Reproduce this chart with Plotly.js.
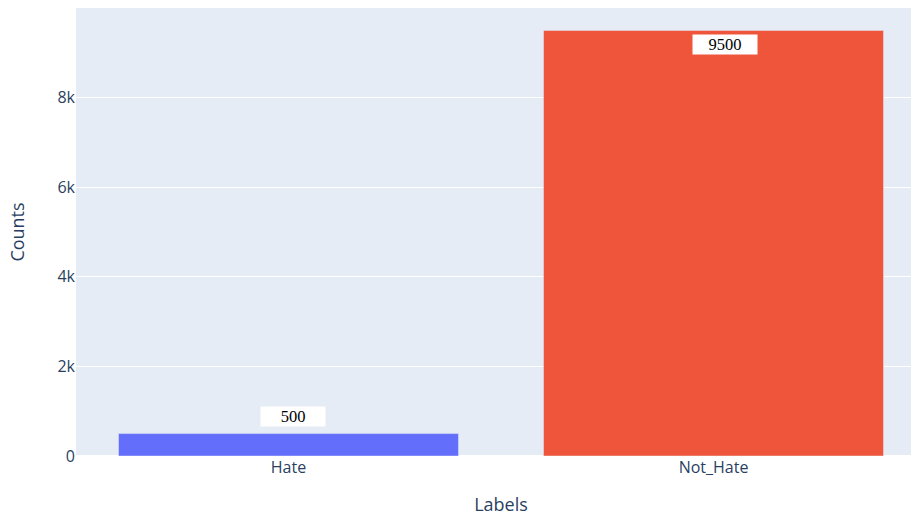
<!DOCTYPE html>
<html>
<head>
<meta charset="utf-8">
<script src="https://cdn.plot.ly/plotly-3.0.1.min.js"></script>
<style>
html, body { margin: 0; padding: 0; overflow: hidden; background: #fff; }
#chart { width: 931px; height: 516px; }
</style>
</head>
<body>
<div id="chart"></div>
<script>
const categories = ["Hate", "Not_Hate"];
const counts = [500, 9500];
const barColors = ["#636efa", "#EF553B"];
const yTickVals = [0, 2000, 4000, 6000, 8000];
const yTickText = ["0", "2k", "4k", "6k", "8k"];

const data = [{
  type: "bar",
  x: categories,
  y: counts,
  marker: { color: barColors, line: { color: "#E5ECF6", width: 0.5 } },
  showlegend: false,
  hoverinfo: "x+y"
}];

const annXShift = [4, 11];
const annYShift = [17.5, -14];
const annotations = categories.map((c, i) => ({
  x: c, y: counts[i], xref: "x", yref: "y",
  text: String(counts[i]),
  showarrow: false,
  xanchor: "center", yanchor: "middle",
  xshift: annXShift[i], yshift: annYShift[i],
  bgcolor: "#ffffff",
  width: 62, height: 17, borderpad: 1,
  font: { family: "Liberation Serif, Times New Roman, serif", size: 16.5, color: "#000000" }
}));

const layout = {
  width: 931, height: 516,
  margin: { l: 76, r: 5, t: 8, b: 60 },
  paper_bgcolor: "#ffffff",
  plot_bgcolor: "#E5ECF6",
  font: { family: "Open Sans, sans-serif", size: 16, color: "#2a3f5f" },
  bargap: 0.2,
  xaxis: {
    type: "category",
    range: [-0.5, 1.5],
    showgrid: false,
    ticks: "",
    tickfont: { size: 16, color: "#2a3f5f" },
    title: { text: "Labels", font: { size: 18, color: "#2a3f5f" }, standoff: 22 },
    automargin: false
  },
  yaxis: {
    range: [0, 10000],
    tickvals: yTickVals,
    ticktext: yTickText,
    gridcolor: "#ffffff",
    gridwidth: 1,
    zeroline: true,
    zerolinecolor: "#ffffff",
    zerolinewidth: 2,
    ticks: "",
    tickfont: { size: 16, color: "#2a3f5f" },
    title: { text: "Counts", font: { size: 18, color: "#2a3f5f" }, standoff: 28 },
    automargin: false
  },
  annotations: annotations
};

Plotly.newPlot("chart", data, layout, { displayModeBar: false, staticPlot: true });
</script>
</body>
</html>
